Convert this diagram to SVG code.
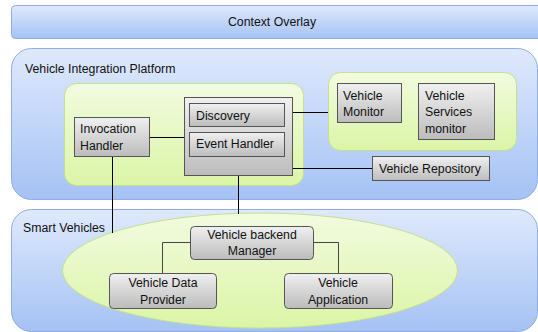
<svg xmlns="http://www.w3.org/2000/svg" width="538" height="332" viewBox="0 0 538 332">
  <defs>
    <linearGradient id="blueFill" x1="0" y1="0" x2="0" y2="1">
      <stop offset="0" stop-color="#dfe9fc"/>
      <stop offset="1" stop-color="#a5c2f4"/>
    </linearGradient>
    <linearGradient id="greenFill" x1="0" y1="0" x2="0" y2="1">
      <stop offset="0" stop-color="#f2fbe0"/>
      <stop offset="1" stop-color="#dbf5a6"/>
    </linearGradient>
    <linearGradient id="grayFill" x1="0" y1="0" x2="0" y2="1">
      <stop offset="0" stop-color="#f0f0f0"/>
      <stop offset="1" stop-color="#bcbcbc"/>
    </linearGradient>
    <style>
      .frame { fill: url(#blueFill); stroke: #8eaee4; stroke-width: 1; }
      .zone { fill: url(#greenFill); stroke: #c4e08c; stroke-width: 1; }
      .box { fill: url(#grayFill); stroke: #555; stroke-width: 1; }
      .rbox { fill: url(#grayFill); stroke: #555; stroke-width: 1; }
      text { font-family: "Liberation Sans", Arial, sans-serif; font-size: 12.3px; fill: #111; }
      .mid { text-anchor: middle; }
      .link { stroke: #000; stroke-width: 1; fill: none; }
      .thin { stroke: #444; stroke-width: 1; fill: none; }
    </style>
  </defs>

  <!-- layers -->
  <g id="context-overlay">
    <rect class="frame" x="11.5" y="5.5" width="540" height="33" rx="4"/>
    <text class="mid" x="272" y="26">Context Overlay</text>
  </g>

  <g id="vehicle-integration-platform">
    <rect class="frame" x="11.5" y="48.5" width="526" height="151" rx="20"/>
    <text x="25" y="73">Vehicle Integration Platform</text>
  </g>

  <g id="smart-vehicles">
    <rect class="frame" x="11.5" y="209.5" width="526" height="122" rx="20"/>
    <text x="23" y="232">Smart Vehicles</text>
  </g>

  <!-- platform zones -->
  <g id="core-zone">
    <rect class="zone" x="64.5" y="83.5" width="239" height="102" rx="12"/>
  </g>
  <g id="monitor-zone">
    <rect class="zone" x="328.5" y="72.5" width="188" height="78" rx="12"/>
  </g>
  <g id="vehicle-zone">
    <ellipse class="zone" cx="260" cy="270.5" rx="197.5" ry="57.5"/>
  </g>

  <!-- connectors -->
  <g id="connectors">
    <line class="link" x1="149" y1="137.5" x2="184" y2="137.5"/>
    <line class="link" x1="292" y1="112.5" x2="328" y2="112.5"/>
    <line class="link" x1="292" y1="168.5" x2="372" y2="168.5"/>
    <line class="link" x1="112.5" y1="156" x2="112.5" y2="233"/>
    <line class="link" x1="238.5" y1="175" x2="238.5" y2="214"/>
    <polyline class="thin" points="190,242.5 162.5,242.5 162.5,273"/>
    <polyline class="thin" points="313,242.5 338.5,242.5 338.5,273"/>
  </g>

  <!-- platform nodes -->
  <g id="invocation-handler">
    <rect class="box" x="74.5" y="117.5" width="75" height="39"/>
    <text x="80" y="133">Invocation</text>
    <text x="80" y="150">Handler</text>
  </g>

  <g id="service-core">
    <rect class="box" x="184.5" y="97.5" width="108" height="78"/>
  </g>
  <g id="discovery">
    <rect class="box" x="189.5" y="103.5" width="95" height="23"/>
    <text x="196" y="120">Discovery</text>
  </g>
  <g id="event-handler">
    <rect class="box" x="189.5" y="132.5" width="95" height="24"/>
    <text x="196" y="148">Event Handler</text>
  </g>

  <g id="vehicle-monitor">
    <rect class="box" x="337.5" y="83.5" width="64" height="39"/>
    <text x="343" y="100">Vehicle</text>
    <text x="343" y="116">Monitor</text>
  </g>

  <g id="vehicle-services-monitor">
    <rect class="box" x="418.5" y="83.5" width="76" height="56"/>
    <text x="425" y="100">Vehicle</text>
    <text x="425" y="116">Services</text>
    <text x="425" y="133">monitor</text>
  </g>

  <g id="vehicle-repository">
    <rect class="box" x="372.5" y="156.5" width="117" height="24"/>
    <text x="379" y="173">Vehicle Repository</text>
  </g>

  <!-- vehicle nodes -->
  <g id="vehicle-backend-manager">
    <rect class="rbox" x="190.5" y="226.5" width="123" height="33" rx="4"/>
    <text class="mid" x="252" y="239">Vehicle backend</text>
    <text class="mid" x="252" y="255">Manager</text>
  </g>

  <g id="vehicle-data-provider">
    <rect class="rbox" x="109.5" y="273.5" width="107" height="35" rx="4"/>
    <text class="mid" x="163" y="287">Vehicle Data</text>
    <text class="mid" x="163" y="304">Provider</text>
  </g>

  <g id="vehicle-application">
    <rect class="rbox" x="284.5" y="273.5" width="108" height="35" rx="4"/>
    <text class="mid" x="338" y="287">Vehicle</text>
    <text class="mid" x="338" y="304">Application</text>
  </g>
</svg>
